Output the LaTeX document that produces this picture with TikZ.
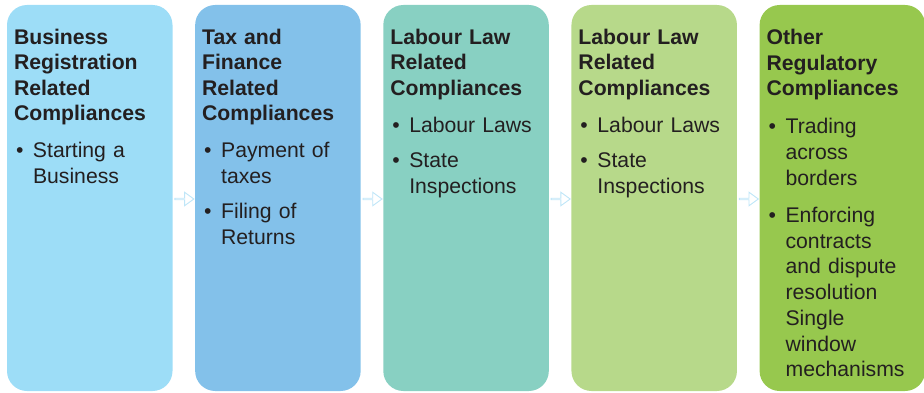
\documentclass[tikz,border=0pt]{standalone}
\usepackage{xcolor}
\usepackage{fontspec}
\setmainfont{Liberation Sans}
\usepackage{tikz}
\usetikzlibrary{positioning,calc,shapes.arrows}

\definecolor{regblue}{HTML}{9DDDF7}
\definecolor{taxblue}{HTML}{83C1EA}
\definecolor{labteal}{HTML}{88D0C2}
\definecolor{labgreen}{HTML}{B7D98A}
\definecolor{othgreen}{HTML}{97C84E}
\definecolor{arrowline}{HTML}{BFE6F8}
\definecolor{inktext}{HTML}{231F20}

\newcommand{\bitem}[1]{\makebox[19pt][l]{\hspace{2pt}\textbullet}#1}
\newcommand{\cont}{\hspace*{19pt}}

\begin{document}
\begin{tikzpicture}[
                x=1pt, y=1pt,
                stage/.style={rounded corners=20pt, minimum width=165.5pt, minimum height=386pt, inner sep=0pt},
                stagetext/.style={anchor=north west, inner sep=0pt, text width=158pt, align=left, text=inktext,
                    font=\fontsize{21.2}{25.4}\selectfont},
                node distance=22.25pt,
                flow/.style={single arrow, draw=arrowline, fill=white, line width=0.9pt, inner sep=0pt,
                    minimum height=19pt, minimum width=13.5pt, single arrow head extend=3.5pt,
                    single arrow tip angle=72}
            ]
                \useasboundingbox (0,0) rectangle (924,392);
                \node[stage, fill=regblue] (b1) at (89.75,194) {};
                \node[stage, fill=taxblue, right=of b1] (b2) {};
                \node[stage, fill=labteal, right=of b2] (b3) {};
                \node[stage, fill=labgreen, right=of b3] (b4) {};
                \node[stage, fill=othgreen, right=of b4] (b5) {};

                \node[stagetext] (t1) at ([shift={(7,-24)}]b1.north west)
                    {\textbf{Business\\Registration\\Related\\Compliances}\\[12pt]
                     \bitem{Starting a}\\ \cont Business};
                \node[stagetext] (t2) at ([shift={(7,-24)}]b2.north west)
                    {\textbf{Tax and\\Finance\\Related\\Compliances}\\[12pt]
                     \bitem{Payment of}\\ \cont taxes\\[10pt]
                     \bitem{Filing of}\\ \cont Returns};
                \node[stagetext] (t3) at ([shift={(7,-24)}]b3.north west)
                    {\textbf{Labour Law\\Related\\Compliances}\\[12pt]
                     \bitem{Labour Laws}\\[10pt]
                     \bitem{State}\\ \cont Inspections};
                \node[stagetext] (t4) at ([shift={(7,-24)}]b4.north west)
                    {\textbf{Labour Law\\Related\\Compliances}\\[12pt]
                     \bitem{Labour Laws}\\[10pt]
                     \bitem{State}\\ \cont Inspections};
                \node[stagetext, font=\fontsize{21.2}{25.7}\selectfont] (t5) at ([shift={(7,-24)}]b5.north west)
                    {\textbf{Other\\Regulatory\\Compliances}\\[12.5pt]
                     \bitem{Trading}\\ \cont across\\ \cont borders\\[11.5pt]
                     \bitem{Enforcing}\\ \cont contracts\\ \cont and dispute\\ \cont resolution\\
                     \cont Single\\ \cont window\\ \cont mechanisms};

                \node[flow] (a1) at ($(b1.east)!0.5!(b2.west)+(0,-1)$) {};
                \node[flow] (a2) at ($(b2.east)!0.5!(b3.west)+(0,-1)$) {};
                \node[flow] (a3) at ($(b3.east)!0.5!(b4.west)+(0,-1)$) {};
                \node[flow] (a4) at ($(b4.east)!0.5!(b5.west)+(0,-1)$) {};
            \end{tikzpicture}
\end{document}
